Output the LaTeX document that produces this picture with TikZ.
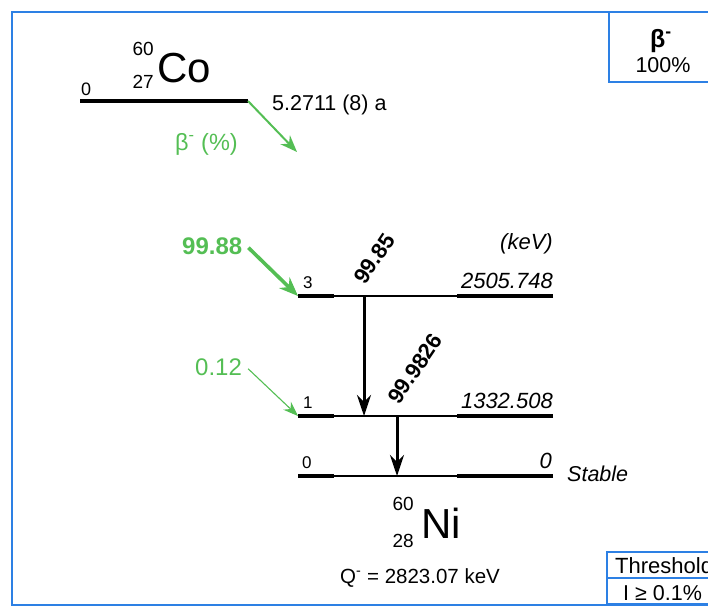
\documentclass[tikz,border=0pt]{standalone}
\usepackage{fontspec}
\setmainfont{Liberation Sans}
\usetikzlibrary{positioning,arrows.meta}
\definecolor{frameblue}{RGB}{45,128,228}
\definecolor{betagreen}{RGB}{84,190,84}

\begin{document}
\begin{tikzpicture}[
    x=1pt, y=-1pt,
    >=Stealth,
    every node/.style={inner sep=0pt, font=\fontsize{21.5}{25}\selectfont},
    frame/.style={draw=frameblue, line width=2.4pt},
    level/.style={line width=2pt},
    levelend/.style={line width=4pt},
    gamma/.style={->, line width=3pt, >={Stealth[length=21pt,width=14pt]}},
    gammalabel/.style={font=\fontsize{22}{26}\bfseries\selectfont, rotate=56, anchor=base west},
    idx/.style={font=\fontsize{17}{20}\selectfont, anchor=base west},
    energy/.style={font=\fontsize{22}{26}\itshape\selectfont, anchor=base east},
    nuc/.style={font=\fontsize{42}{48}\selectfont},
    nucnum/.style={font=\fontsize{19}{22}\selectfont, anchor=base east},
    feedlabel/.style={text=betagreen, font=\fontsize{24}{28}\selectfont, anchor=base west}
]

\clip (0,0) rectangle (708,606);

\draw[frame] (12,12) rectangle (740,605);
\draw[frame] (609,12) rectangle (740,82);
\draw[frame, line width=2pt] (607,552) rectangle (740,604);
\draw[frame, line width=2pt] (607,578) -- (740,578);

\node[font=\fontsize{25}{28}\bfseries\selectfont, anchor=base] (mode) at (661,47) {β\textsuperscript{-}};
\node[anchor=base] (modepct) at (663,72) {100\%};

\node[anchor=base west, font=\fontsize{22}{26}\selectfont] (thr) at (615,573) {Threshold};
\node[anchor=base west] (thrval) at (623,600) {I ≥ 0.1\%};

\node[nucnum] (coA) at (154,55) {60};
\node[nucnum] (coZ) at (154,88) {27};
\node[nuc, anchor=base west] (co) at (157,82) {Co};

\coordinate (cos) at (80,101);
\coordinate (coe) at (248,101);
\coordinate (cot) at (297,152);
\draw[levelend] (cos) -- (coe);
\node[idx, font=\fontsize{18}{20}\selectfont] (co0) at (81,95) {0};
\node[anchor=base west] (hl) at (272,110) {5.2711 (8) a};
\draw[->, betagreen, line width=2pt, >={Stealth[length=17pt,width=13pt]}] (coe) -- (cot);
\node[feedlabel, font=\fontsize{23.5}{26}\selectfont] (bm) at (175,150) {β\textsuperscript{-} (\%)};

\coordinate (l3a) at (298,296);
\coordinate (l3b) at (553,296);
\coordinate (l1a) at (298,416);
\coordinate (l1b) at (553,416);
\coordinate (l0a) at (298,476);
\coordinate (l0b) at (553,476);

\draw[level] (l3a) -- (l3b);
\draw[levelend] (l3a) -- ++(36,0);
\draw[levelend] (l3b) -- ++(-96,0);
\draw[level] (l1a) -- (l1b);
\draw[levelend] (l1a) -- ++(36,0);
\draw[levelend] (l1b) -- ++(-96,0);
\draw[level] (l0a) -- (l0b);
\draw[levelend] (l0a) -- ++(36,0);
\draw[levelend] (l0b) -- ++(-96,0);

\node[energy] (unit) at (553,249) {(keV)};
\node[idx] (n3) at (303,288) {3};
\node[energy] (e3) at (553,288) {2505.748};
\node[idx] (n1) at (303,408) {1};
\node[energy] (e1) at (553,408) {1332.508};
\node[idx] (n0) at (302,468) {0};
\node[energy] (e0) at (552,468) {0};
\node[energy, anchor=base west, font=\fontsize{21.5}{25}\itshape\selectfont] (stable) at (567,481) {Stable};

\node[feedlabel, font=\fontsize{24}{28}\bfseries\selectfont] (f3) at (182,254) {99.88};
\node[feedlabel] (f1) at (195,375) {0.12};
\draw[->, betagreen, line width=3.6pt, >={Stealth[length=19pt,width=15pt]}] ([xshift=6pt,yshift=-2pt]f3.east) -- (l3a);
\draw[->, betagreen, line width=1.1pt, >={Stealth[length=15pt,width=11pt]}] ([xshift=6pt,yshift=-2pt]f1.east) -- (l1a);

\coordinate (g1a) at (364,296);
\coordinate (g1b) at (364,416);
\coordinate (g2a) at (397,416);
\coordinate (g2b) at (397,476);
\draw[gamma] (g1a) -- (g1b);
\draw[gamma] (g2a) -- (g2b);
\node[gammalabel] (i1) at (365,286) {99.85};
\node[gammalabel] (i2) at (399,406) {99.9826};

\node[nucnum] (niA) at (414,510) {60};
\node[nucnum] (niZ) at (414,547) {28};
\node[nuc, anchor=base west] (ni) at (421,538) {Ni};
\node[anchor=base west, font=\fontsize{20.5}{24}\selectfont] (q) at (340,583) {Q\textsuperscript{-} = 2823.07 keV};

\end{tikzpicture}
\end{document}
